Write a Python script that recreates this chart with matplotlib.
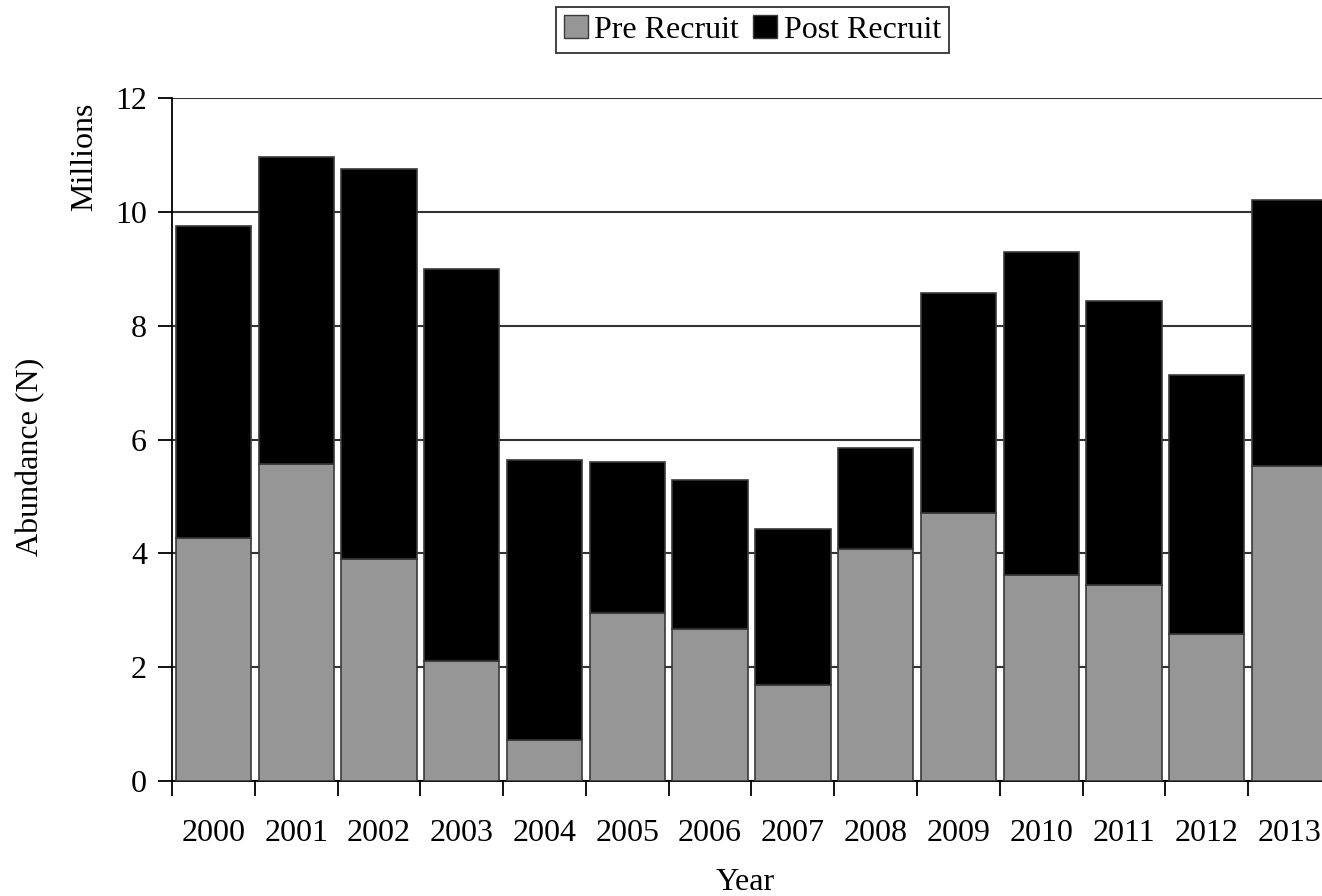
import matplotlib
matplotlib.use('Agg')
import matplotlib.pyplot as plt
from matplotlib.patches import Patch
import numpy as np

years = ["2000", "2001", "2002", "2003", "2004", "2005", "2006",
         "2007", "2008", "2009", "2010", "2011", "2012", "2013"]
pre_recruit = [4.27, 5.57, 3.90, 2.11, 0.72, 2.95, 2.67,
               1.69, 4.08, 4.71, 3.62, 3.44, 2.58, 5.54]
total = [9.75, 10.97, 10.76, 9.00, 5.64, 5.61, 5.29,
         4.43, 5.85, 8.58, 9.30, 8.44, 7.14, 10.21]
post_recruit = [t - p for t, p in zip(total, pre_recruit)]

plt.rcParams['font.family'] = ['Liberation Serif', 'DejaVu Serif']
FS = 23
GRAY = "#969696"
EDGE = "#3a3a3a"

fig = plt.figure(figsize=(13.22, 8.96), dpi=100)
ax = fig.add_axes([0.1301, 0.1283, 0.8767, 0.7623])

x = np.arange(len(years))
ax.bar(x, pre_recruit, width=0.91, color=GRAY, edgecolor=EDGE, linewidth=1.2, zorder=3)
ax.bar(x, post_recruit, width=0.91, bottom=pre_recruit, color="black",
       edgecolor=EDGE, linewidth=1.2, zorder=3)

ax.set_xlim(-0.5, len(years) - 0.5)
ax.set_ylim(0, 12)
ax.set_yticks(range(0, 13, 2))
ax.yaxis.grid(True, color="#333333", linewidth=1.5, zorder=0)
ax.set_axisbelow(True)

# ticks at category boundaries, labels at centres
ax.set_xticks(np.arange(-0.5, len(years), 1.0))
ax.set_xticklabels([])
ax.set_xticks(x, minor=True)
ax.set_xticklabels(years, minor=True)
ax.tick_params(axis='x', which='major', length=11, width=1.3, direction='out')
ax.tick_params(axis='x', which='minor', length=0, pad=27, labelsize=FS)
ax.tick_params(axis='y', length=10, width=1.3, direction='out', pad=8, labelsize=FS)

for s in ['top', 'right']:
    ax.spines[s].set_visible(False)
ax.spines['left'].set_linewidth(1.3)
ax.spines['bottom'].set_linewidth(1.3)

fig.text(0.064, 0.825, "Millions", rotation=90, ha='center', va='center', fontsize=FS)
fig.text(0.023, 0.49, "Abundance (N)", rotation=90, ha='center', va='center', fontsize=FS)
fig.text(0.564, 0.015, "Year", ha='center', va='center', fontsize=FS)

handles = [Patch(facecolor=GRAY, edgecolor=EDGE, label="Pre Recruit"),
           Patch(facecolor="black", edgecolor=EDGE, label="Post Recruit")]
leg = fig.legend(handles=handles, loc='center', bbox_to_anchor=(0.569, 0.9665), ncol=2,
                 fontsize=FS, frameon=True, fancybox=False, edgecolor="black",
                 handlelength=0.75, handleheight=0.75, handletextpad=0.2,
                 columnspacing=0.45, borderpad=0.25, borderaxespad=0)
leg.get_frame().set_linewidth(1.3)

fig.savefig("out.png", dpi=100, facecolor="white")
